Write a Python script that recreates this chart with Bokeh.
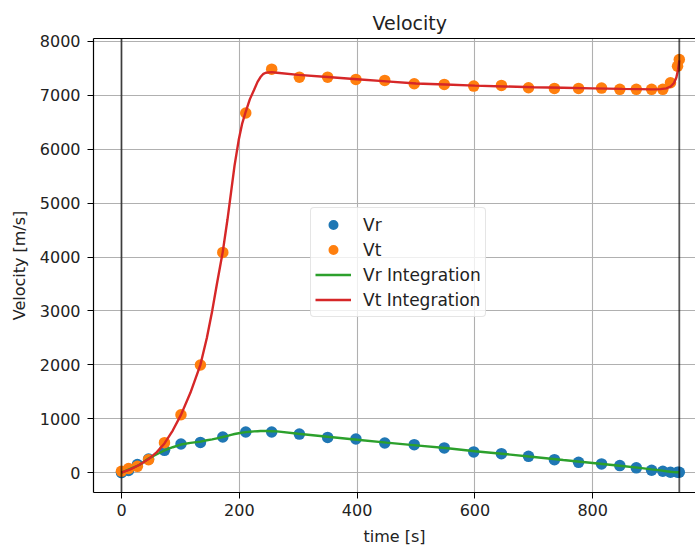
from bokeh.plotting import figure
from bokeh.models import Range1d, Span, Legend, LegendItem, LinearAxis, FixedTicker, Title
from bokeh.embed import file_html
from bokeh.resources import INLINE

# measured points
t_pts = [0, 12, 27, 46, 73, 101, 134, 172, 211, 255, 302, 350, 398, 447, 497, 548, 598,
         645, 691, 735, 776, 815, 846, 874, 900, 919, 932, 944, 947]
vr_pts = [0, 40, 148, 250, 412, 531, 560, 660, 752, 752, 714, 652, 622, 549, 518, 457, 383,
          351, 301, 240, 190, 161, 129, 87, 43, 24, 6, 6, 6]
vt_pts = [25, 74, 116, 240, 555, 1072, 1996, 4085, 6673, 7486, 7338, 7338, 7296, 7277, 7215,
          7203, 7172, 7184, 7141, 7129, 7129, 7135, 7111, 7111, 7111, 7111, 7233, 7541, 7665]

# integration curves
t_int = [0, 15, 30, 46, 60, 73, 87, 101, 117, 134, 145, 154, 162, 172, 180, 186, 192, 199,
         205, 211, 218, 225, 231, 236, 241, 245, 255, 264, 300, 350, 400, 450, 500, 550, 600,
         650, 700, 750, 800, 850, 880, 900, 915, 925, 932, 938, 942, 945, 947]
vt_int = [0, 60, 140, 250, 380, 540, 780, 1070, 1480, 2000, 2500, 3000, 3500, 4100, 4700,
          5200, 5700, 6170, 6480, 6700, 6930, 7100, 7250, 7340, 7400, 7420, 7430, 7420, 7380,
          7340, 7300, 7260, 7220, 7200, 7180, 7165, 7150, 7140, 7130, 7120, 7115, 7110, 7115,
          7130, 7160, 7230, 7330, 7480, 7650]
vr_int = [0, 70, 140, 260, 340, 410, 470, 520, 550, 575, 600, 615, 635, 660, 680, 700, 715,
          730, 740, 750, 758, 765, 768, 770, 770, 770, 768, 765, 720, 665, 610, 555, 505, 455,
          395, 345, 290, 232, 178, 122, 88, 60, 40, 25, 15, 9, 6, 5, 5]

x_ticks = [0, 200, 400, 600, 800]
y_ticks = [0, 1000, 2000, 3000, 4000, 5000, 6000, 7000, 8000]
t_start = 0
t_end = 947

FONT = "DejaVu Sans"

p = figure(width=695, height=548, output_backend="svg", toolbar_location=None,
           x_range=Range1d(-47.5, 974.5), y_range=Range1d(-370, 8055),
           min_border_left=93, min_border_right=0, min_border_top=38, min_border_bottom=55)
p.title = None
p.outline_line_color = None
p.background_fill_color = "white"
p.border_fill_color = "white"

for ax in (p.xaxis[0], p.yaxis[0]):
    ax.axis_line_color = "black"
    ax.axis_line_width = 1.2
    ax.major_tick_line_color = "black"
    ax.major_tick_out = 6
    ax.major_tick_in = 0
    ax.minor_tick_line_color = None
    ax.major_label_text_font = FONT
    ax.major_label_text_font_size = "16px"
    ax.major_label_text_color = "#222222"
    ax.axis_label_text_font = FONT
    ax.axis_label_text_font_size = "16px"
    ax.axis_label_text_font_style = "normal"
    ax.axis_label_text_color = "#222222"

p.xaxis[0].ticker = FixedTicker(ticks=x_ticks)
p.yaxis[0].ticker = FixedTicker(ticks=y_ticks)
p.xaxis[0].axis_label = "time [s]"
p.yaxis[0].axis_label = "Velocity [m/s]"
p.xaxis[0].major_label_standoff = 5
p.yaxis[0].major_label_standoff = 7
p.xaxis[0].axis_label_standoff = 8
p.yaxis[0].axis_label_standoff = 8

top = LinearAxis(ticker=FixedTicker(ticks=[]), major_label_text_font_size="0px",
                 axis_line_color="black", axis_line_width=1.2, major_tick_line_color=None,
                 minor_tick_line_color=None)
p.add_layout(top, "above")

p.xgrid.ticker = FixedTicker(ticks=x_ticks)
p.ygrid.ticker = FixedTicker(ticks=y_ticks)
p.grid.grid_line_color = "#b0b0b0"
p.grid.grid_line_width = 1.1

for tv in (t_start, t_end):
    p.add_layout(Span(location=tv, dimension="height", line_color="black",
                      line_alpha=0.65, line_width=1.8))

r_vr = p.scatter(t_pts, vr_pts, size=11.5, color="#1f77b4", line_color=None)
r_vt = p.scatter(t_pts, vt_pts, size=11.5, color="#ff7f0e", line_color=None)
r_vri = p.line(t_int, vr_int, line_color="#2ca02c", line_width=2.4)
r_vti = p.line(t_int, vt_int, line_color="#d62728", line_width=2.4)

legend = Legend(items=[LegendItem(label="Vr", renderers=[r_vr]),
                       LegendItem(label="Vt", renderers=[r_vt]),
                       LegendItem(label="Vr Integration", renderers=[r_vri]),
                       LegendItem(label="Vt Integration", renderers=[r_vti])],
                location=(217, 175))
legend.label_text_font = FONT
legend.label_text_font_size = "17px"
legend.label_text_color = "#222222"
legend.glyph_width = 36
legend.glyph_height = 25
legend.label_height = 25
legend.label_standoff = 12
legend.spacing = 0
legend.padding = 4
legend.margin = 0
legend.border_line_color = "#cccccc"
legend.border_line_width = 1
legend.background_fill_alpha = 0.8
legend.border_radius = 4
p.add_layout(legend, "center")

title = Title(text="Velocity", text_font=FONT, text_font_size="19px",
              text_font_style="normal", text_color="#222222", align="left", offset=279)
p.add_layout(title, "above")

open("out.html", "w").write(file_html(p, INLINE))
